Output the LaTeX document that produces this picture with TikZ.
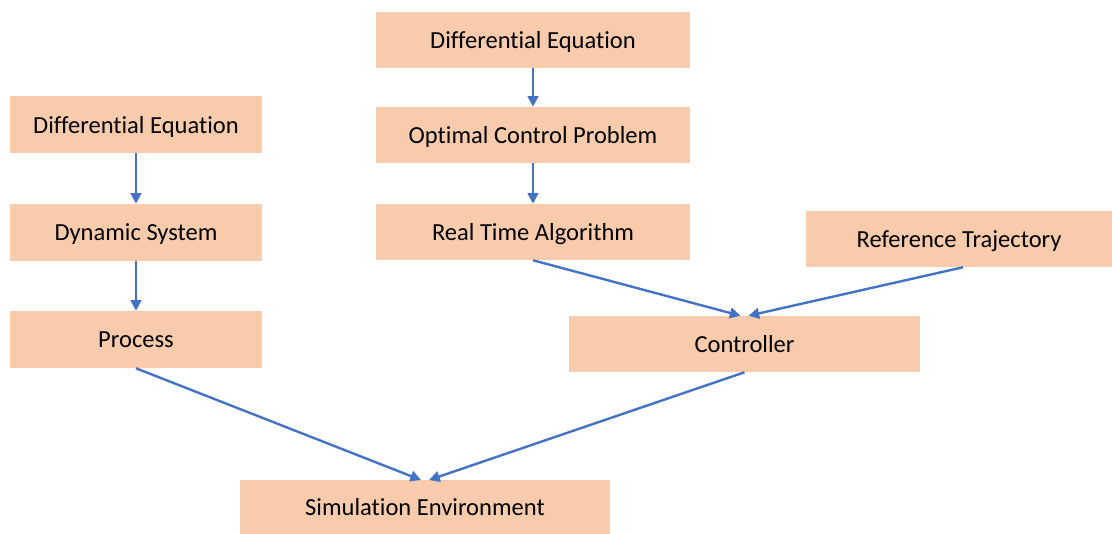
\documentclass[tikz,border=0pt]{standalone}
\usepackage{fontspec}
\setmainfont{Carlito}[Ligatures=NoCommon]
\usetikzlibrary{arrows.meta,calc}
\definecolor{peach}{HTML}{F8CBAD}
\definecolor{arrowblue}{HTML}{4472C4}
\begin{document}
\begin{tikzpicture}[x=0.75pt,y=-0.75pt,
  box/.style={fill=peach,draw=none,inner sep=0pt,text depth=0pt,font=\fontsize{18.4}{22}\selectfont},
  conn/.style={draw=arrowblue,line width=1.8pt,-{Triangle[length=8pt,width=8pt]}}]
\useasboundingbox (0,0) rectangle (1112,533);
\node[box,minimum width=189pt,minimum height=42.75pt] (de1) at (136,124.5) {Differential Equation};
\node[box,minimum width=189pt,minimum height=42.75pt] (ds) at (136,232.5) {Dynamic System};
\node[box,minimum width=189pt,minimum height=42.75pt] (pr) at (136,339.5) {Process};
\node[box,minimum width=235.5pt,minimum height=42pt] (de2) at (533,40) {Differential Equation};
\node[box,minimum width=235.5pt,minimum height=42pt] (ocp) at (533,135) {Optimal Control Problem};
\node[box,minimum width=235.5pt,minimum height=42pt] (rta) at (533,232) {Real Time Algorithm};
\node[box,minimum width=229.5pt,minimum height=42pt] (rt) at (959,239) {Reference Trajectory};
\node[box,minimum width=263.25pt,minimum height=42pt] (ctrl) at (744.5,344) {Controller};
\node[box,minimum width=277.5pt,minimum height=40pt,anchor=north] (sim) at (425,480) {Simulation Environment};
\draw[conn] (de1.south) -- (ds.north);
\draw[conn] (ds.south) -- (pr.north);
\draw[conn] (de2.south) -- (ocp.north);
\draw[conn] (ocp.south) -- (rta.north);
\draw[conn] (rta.south) -- ($(ctrl.north)+(-4,0)$);
\draw[conn] ($(rt.south)+(4,0)$) -- ($(ctrl.north)+(4,0)$);
\draw[conn] (pr.south) -- ($(sim.north)+(-4,0)$);
\draw[conn] (ctrl.south) -- ($(sim.north)+(4,0)$);
\end{tikzpicture}
\end{document}
